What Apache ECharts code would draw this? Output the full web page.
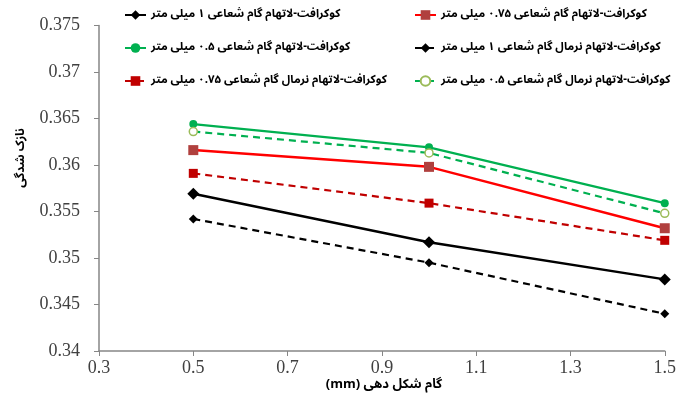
<!DOCTYPE html>
<html><head><meta charset="utf-8">
<script src="https://cdn.jsdelivr.net/npm/echarts@6/dist/echarts.min.js"></script>
<style>html,body{margin:0;padding:0;background:#fff}#c{width:679px;height:405px}</style>
</head><body><div id="c"></div>
<script>
const xValues = [0.5, 1.0, 1.5];
const xTickMin = 0.3, xTickMax = 1.5, xTickStep = 0.2;
const yTickMin = 0.34, yTickMax = 0.375, yTickStep = 0.005;

const names = [
  'کوکرافت-لاتهام گام شعاعی ۱ میلی متر',
  'کوکرافت-لاتهام گام شعاعی ۰.۷۵ میلی متر',
  'کوکرافت-لاتهام گام شعاعی ۰.۵ میلی متر',
  'کوکرافت-لاتهام نرمال گام شعاعی ۱ میلی متر',
  'کوکرافت-لاتهام نرمال گام شعاعی ۰.۷۵ میلی متر',
  'کوکرافت-لاتهام نرمال گام شعاعی ۰.۵ میلی متر'
];
const cl1 = [0.3569, 0.3517, 0.3477];
const cl075 = [0.3616, 0.3598, 0.3532];
const cl05 = [0.3644, 0.3619, 0.3559];
const ncl1 = [0.3542, 0.3495, 0.3440];
const ncl075 = [0.3591, 0.3559, 0.3519];
const ncl05 = [0.3636, 0.3613, 0.3548];

const xTitle = '(mm) گام شکل دهی';
const yTitle = 'نازک شدگی';

function pts(v){ return xValues.map((x,i)=>[x, v[i]]); }
function mk(name, data, lineColor, type, width, symbol, size, itemStyle){
  return {name, type:'line', data:pts(data), symbol, symbolSize:size,
    lineStyle:{color:lineColor, width, type}, itemStyle, z: 3};
}
const series = [
  mk(names[0], cl1, '#000000', 'solid', 2.5, 'diamond', 12, {color:'#000000'}),
  mk(names[1], cl075, '#FF0000', 'solid', 2.5, 'rect', 10, {color:'#B0403E'}),
  mk(names[2], cl05, '#00B050', 'solid', 2.2, 'circle', 8, {color:'#00B050'}),
  mk(names[3], ncl1, '#000000', [7,5], 2.2, 'diamond', 9, {color:'#000000'}),
  mk(names[4], ncl075, '#C00000', [7,5], 2.2, 'rect', 9, {color:'#C00000'}),
  mk(names[5], ncl05, '#00B050', [7,5], 2.2, 'circle', 8, {color:'#ffffff', borderColor:'#9BBB59', borderWidth:1.5})
];

const arFont = '"Noto Sans Arabic"';
const legendText = {fontFamily:arFont, fontWeight:'bold', fontSize:11.5, color:'#000'};
const serif = 'Times New Roman';
const chart = echarts.init(document.getElementById('c'), null, {renderer:'canvas'});
chart.setOption({
  animation:false,
  textStyle:{fontFamily:serif},
  grid:{left:99, right:11, top:25.5, bottom:54, containLabel:false},
  legend:[
    {data:[names[0], names[2], names[4]], orient:'vertical', left:119, top:4, itemGap:21, padding:5,
     itemWidth:21, itemHeight:12, textStyle:legendText},
    {data:[names[1], names[3], names[5]], orient:'vertical', left:409, top:4, itemGap:21, padding:5,
     itemWidth:21, itemHeight:12, textStyle:legendText}
  ],
  xAxis:{type:'value', min:xTickMin, max:xTickMax, interval:xTickStep,
    axisLine:{lineStyle:{color:'#868686', width:1.5}},
    axisTick:{show:true, length:5, lineStyle:{color:'#868686'}},
    splitLine:{show:false},
    axisLabel:{fontFamily:serif, fontSize:18, color:'#404040', margin:8,
      formatter:v=>String(Math.round(v*10)/10)}
  },
  yAxis:{type:'value', min:yTickMin, max:yTickMax, interval:yTickStep,
    axisLine:{show:true, lineStyle:{color:'#868686', width:1.5}},
    axisTick:{show:true, length:5, lineStyle:{color:'#868686'}},
    splitLine:{show:false},
    axisLabel:{fontFamily:serif, fontSize:18, color:'#404040', margin:19,
      formatter:v=>String(Math.round(v*1000)/1000)}
  },
  graphic:[
    {type:'text', x:384, y:386, style:{text:xTitle, font:'bold 13px "Noto Sans Arabic"', fill:'#000', textAlign:'center', textVerticalAlign:'middle'}},
    {type:'text', x:22, y:158, rotation:Math.PI/2, style:{text:yTitle, font:'bold 12px "Noto Sans Arabic"', fill:'#000', textAlign:'center', textVerticalAlign:'middle'}}
  ],
  series
});
</script></body></html>
